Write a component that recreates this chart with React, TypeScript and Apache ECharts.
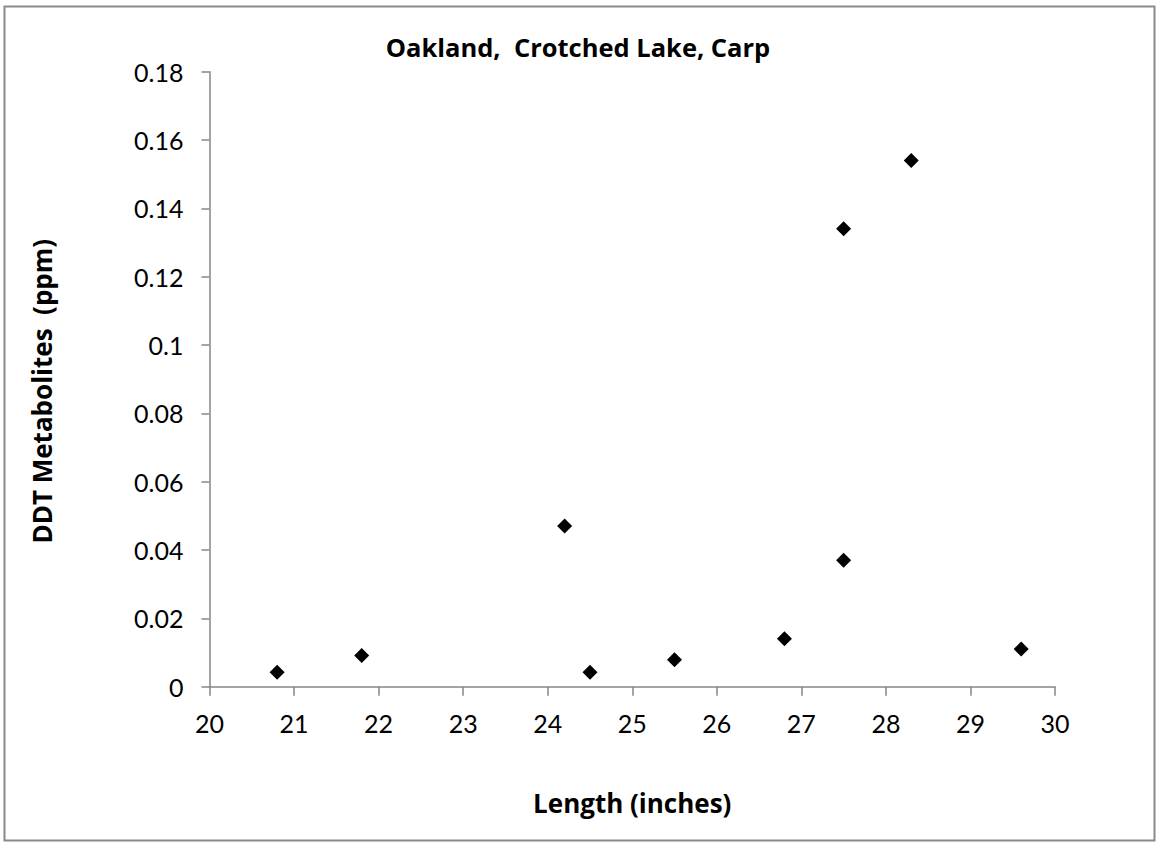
import React, { useEffect, useRef } from "react";
import * as echarts from "echarts";

const lengths = [20.8, 21.8, 24.2, 24.5, 25.5, 26.8, 27.5, 27.5, 28.3, 29.6];
const ddt = [0.0042, 0.0091, 0.047, 0.0042, 0.0079, 0.014, 0.037, 0.134, 0.154, 0.011];
const titleText = "Oakland,  Crotched Lake, Carp";
const xName = "Length (inches)";
const yName = "DDT Metabolites  (ppm)";

const FONT = "Lato, 'Open Sans', sans-serif";
const BOLD_FONT = "'Open Sans', Lato, sans-serif";

export default function App() {
  const ref = useRef<HTMLDivElement>(null);
  useEffect(() => {
    if (!ref.current) return;
    const chart = echarts.init(ref.current, undefined, { renderer: "svg" });
    const points = lengths.map((x, i) => [x, ddt[i]]);
    chart.setOption({
      animation: false,
      backgroundColor: "#ffffff",
      textStyle: { fontFamily: FONT },
      title: {
        text: titleText,
        left: "center",
        top: 29,
        textStyle: { fontFamily: BOLD_FONT, fontSize: 25.5, fontWeight: "bold", color: "#000" },
      },
      graphic: [
        {
          type: "rect",
          shape: { x: 4.5, y: 6.5, width: 1150, height: 834 },
          style: { fill: "none", stroke: "#8a8a8a", lineWidth: 2 },
          silent: true,
        },
      ],
      grid: { left: 209.5, right: 101, top: 71.7, bottom: 155.3 },
      xAxis: {
        type: "value",
        min: 20,
        max: 30,
        interval: 1,
        name: xName,
        nameLocation: "middle",
        nameGap: 103,
        nameTextStyle: { fontFamily: BOLD_FONT, fontSize: 26, fontWeight: "bold", color: "#000" },
        axisLine: { show: true, lineStyle: { color: "#868686", width: 1.5 } },
        axisTick: { show: true, length: 9, lineStyle: { color: "#868686", width: 1.5 } },
        axisLabel: { fontFamily: FONT, fontSize: 25, color: "#000", margin: 24 },
        splitLine: { show: false },
      },
      yAxis: {
        type: "value",
        min: 0,
        max: 0.18,
        interval: 0.02,
        name: yName,
        nameLocation: "middle",
        nameGap: 155,
        nameTextStyle: {
          fontFamily: BOLD_FONT,
          fontSize: 26,
          fontWeight: "bold",
          color: "#000",
          padding: [0, 24, 0, 0],
        },
        axisLine: { show: true, lineStyle: { color: "#868686", width: 1.5 } },
        axisTick: { show: true, length: 8, lineStyle: { color: "#868686", width: 1.5 } },
        axisLabel: {
          fontFamily: FONT,
          fontSize: 25,
          color: "#000",
          margin: 26,
          formatter: (v: number) => String(+v.toFixed(2)),
        },
        splitLine: { show: false },
      },
      series: [
        {
          type: "scatter",
          data: points,
          symbol: "diamond",
          symbolSize: 15,
          itemStyle: { color: "#000", opacity: 1 },
        },
      ],
    });
    return () => chart.dispose();
  }, []);
  return (
    <div
      ref={ref}
      style={{ position: "absolute", left: 0, top: 0, width: 1156, height: 842 }}
    />
  );
}
